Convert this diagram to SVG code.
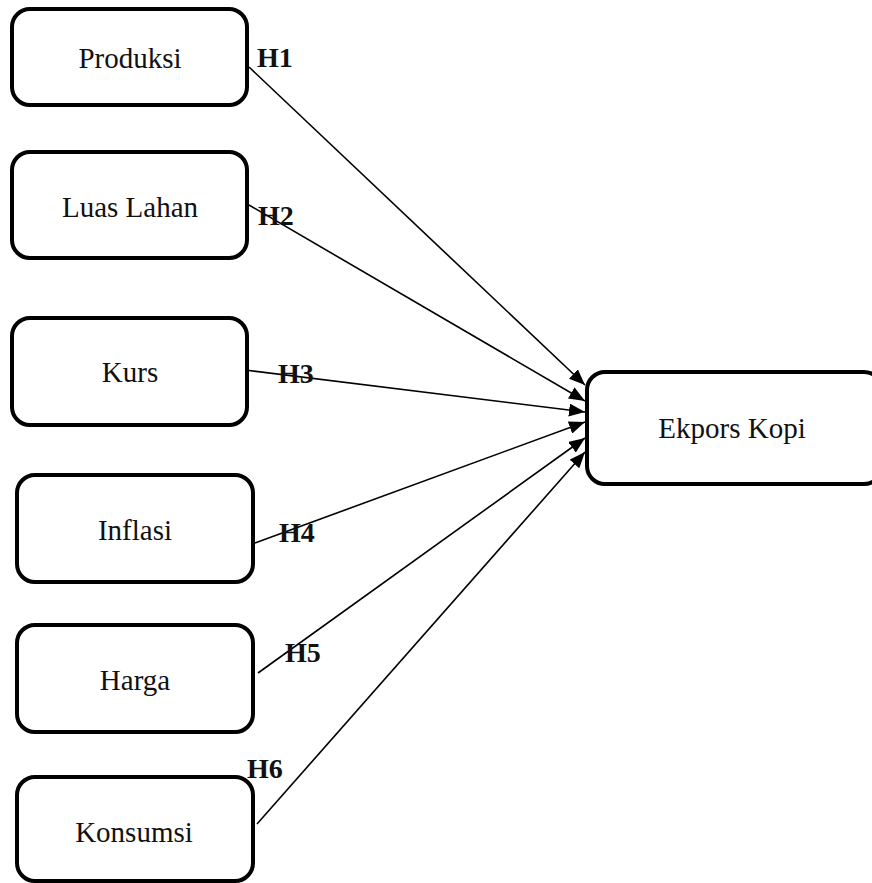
<svg xmlns="http://www.w3.org/2000/svg" width="872" height="883" viewBox="0 0 872 883">
<style>
.box{fill:#fff;stroke:#000;stroke-width:4}
.lbl{font-family:"Liberation Serif","DejaVu Serif",serif;font-size:29px;fill:#111;text-anchor:middle}
.h{font-family:"Liberation Serif","DejaVu Serif",serif;font-size:28px;font-weight:bold;fill:#111}
.conn{stroke:#000;stroke-width:1.6;fill:none;marker-end:url(#arr)}
</style>
<defs>
<marker id="arr" markerUnits="userSpaceOnUse" markerWidth="16" markerHeight="13" refX="16" refY="6.5" orient="auto">
<path d="M0,0 L16,6.5 L0,13 z" fill="#000"/>
</marker>
</defs>
<rect width="872" height="883" fill="#fff"/>
<g id="connectors">
<line class="conn" x1="249" y1="67" x2="585" y2="385"/>
<line class="conn" x1="249" y1="205" x2="585" y2="401"/>
<line class="conn" x1="245" y1="370" x2="585" y2="412"/>
<line class="conn" x1="255" y1="543" x2="585" y2="422"/>
<line class="conn" x1="258" y1="673" x2="585" y2="438"/>
<line class="conn" x1="257" y1="824" x2="585" y2="452"/>
</g>
<g id="produksi"><rect class="box" x="12" y="9" width="235" height="96" rx="18"/><text class="lbl" x="130" y="68">Produksi</text></g>
<g id="luas-lahan"><rect class="box" x="12" y="152" width="235" height="106" rx="18"/><text class="lbl" x="130" y="217">Luas Lahan</text></g>
<g id="kurs"><rect class="box" x="12" y="318" width="235" height="107" rx="18"/><text class="lbl" x="130" y="382">Kurs</text></g>
<g id="inflasi"><rect class="box" x="17" y="475" width="236" height="107" rx="18"/><text class="lbl" x="135" y="540">Inflasi</text></g>
<g id="harga"><rect class="box" x="17" y="625" width="236" height="107" rx="18"/><text class="lbl" x="135" y="690">Harga</text></g>
<g id="konsumsi"><rect class="box" x="17" y="777" width="236" height="104" rx="18"/><text class="lbl" x="134" y="842">Konsumsi</text></g>
<g id="ekspor-kopi"><rect class="box" x="587" y="372" width="295" height="112" rx="18"/><text class="lbl" x="732" y="438">Ekpors Kopi</text></g>
<g id="labels">
<text class="h" x="257" y="67">H1</text>
<text class="h" x="258" y="225">H2</text>
<text class="h" x="278" y="383">H3</text>
<text class="h" x="279" y="542">H4</text>
<text class="h" x="285" y="662">H5</text>
<text class="h" x="247" y="778">H6</text>
</g>
</svg>
